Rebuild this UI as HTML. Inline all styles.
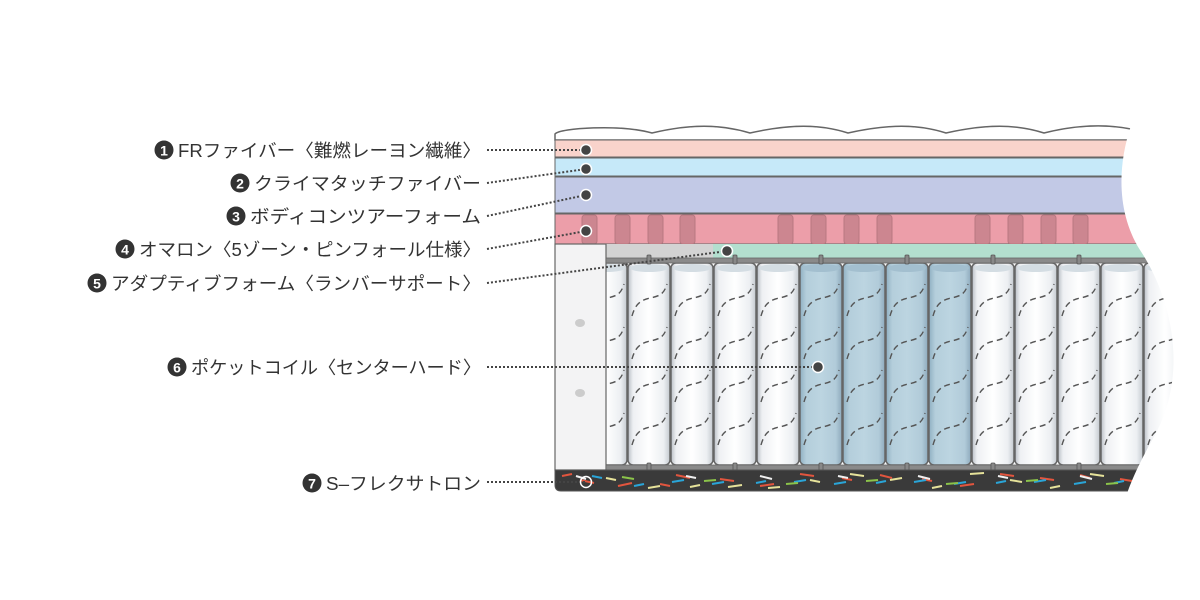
<!DOCTYPE html>
<html><head><meta charset="utf-8"><style>
html,body{margin:0;padding:0;background:#fff;}
svg{display:block}
text{font-family:"Liberation Sans","Noto Sans CJK JP",sans-serif;}
</style></head><body>
<svg width="1200" height="600" viewBox="0 0 1200 600" xmlns="http://www.w3.org/2000/svg">
<defs>
<linearGradient id="cw" x1="0" x2="1" y1="0" y2="0">
<stop offset="0" stop-color="#b9bec6"/><stop offset="0.12" stop-color="#eef0f3"/><stop offset="0.5" stop-color="#ffffff"/><stop offset="0.85" stop-color="#eceff2"/><stop offset="1" stop-color="#c3c8cf"/></linearGradient>
<linearGradient id="cb" x1="0" x2="1" y1="0" y2="0">
<stop offset="0" stop-color="#8fb0c3"/><stop offset="0.15" stop-color="#b4cedb"/><stop offset="0.5" stop-color="#bcd5e1"/><stop offset="0.85" stop-color="#b1cbd9"/><stop offset="1" stop-color="#8eaabd"/></linearGradient>
<g id="dash" fill="none" stroke="#555" stroke-width="1.4" stroke-dasharray="6 4">
<path d="M4,316 C7,305 12,300 22,298 C32,296 36,294 39,284"/>
<path d="M4,359 C7,348 12,343 22,341 C32,339 36,337 39,327"/>
<path d="M4,402 C7,391 12,386 22,384 C32,382 36,380 39,370"/>
<path d="M4,445 C7,434 12,429 22,427 C32,425 36,423 39,413"/>
</g>
<g id="coilw"><rect x="0" y="263" width="42" height="202" rx="5" fill="url(#cw)" stroke="#666" stroke-width="1.5"/><ellipse cx="21" cy="268" rx="19" ry="4" fill="#d4dde3"/><use href="#dash"/></g>
<g id="coilb"><rect x="0" y="263" width="42" height="202" rx="5" fill="url(#cb)" stroke="#666" stroke-width="1.5"/><ellipse cx="21" cy="268" rx="19" ry="4" fill="#a3bfcf"/><use href="#dash"/></g>
<g id="blk"><rect x="0" y="215" width="15" height="29" rx="3" fill="#cc8690" stroke="#b87881" stroke-width="1"/></g>
</defs>

<!-- quilt top -->
<path d="M555,140 L555,134 C560,128 620,124 652,133 C690,124 720,124 750,133 C790,124 820,124 848,133 C888,124 918,124 946,133 C986,124 1016,124 1044,133 C1080,124 1110,124 1135,130 L1135,140 Z" fill="#fff" stroke="#666" stroke-width="1.5"/>
<!-- layers -->
<rect x="555" y="140" width="600" height="17" fill="#f9d3cb" stroke="#666" stroke-width="1"/>
<rect x="555" y="158" width="600" height="18" fill="#c6e9f9" stroke="#666" stroke-width="1"/>
<rect x="555" y="177" width="600" height="36" fill="#c2c9e6" stroke="#666" stroke-width="1"/>
<rect x="555" y="214" width="600" height="30" fill="#ec9ea9" stroke="#666" stroke-width="1"/>
<use href="#blk" x="582"/><use href="#blk" x="615"/><use href="#blk" x="648"/><use href="#blk" x="680"/>
<use href="#blk" x="778"/><use href="#blk" x="811"/><use href="#blk" x="844"/><use href="#blk" x="877"/>
<use href="#blk" x="975"/><use href="#blk" x="1008"/><use href="#blk" x="1041"/><use href="#blk" x="1073"/>
<rect x="606" y="244" width="107" height="14" fill="#d3d3d3"/>
<rect x="713" y="244" width="460" height="14" fill="#b3dfcf"/>
<!-- coils -->
<g>
<use href="#coilw" x="585"/><use href="#coilw" x="628"/><use href="#coilw" x="671"/><use href="#coilw" x="714"/><use href="#coilw" x="757"/>
<use href="#coilb" x="800"/><use href="#coilb" x="843"/><use href="#coilb" x="886"/><use href="#coilb" x="929"/>
<use href="#coilw" x="972"/><use href="#coilw" x="1015"/><use href="#coilw" x="1058"/><use href="#coilw" x="1101"/><use href="#coilw" x="1144"/>
</g>
<rect x="555" y="244" width="51" height="226" fill="#f3f3f4" stroke="#666" stroke-width="1.2"/>
<ellipse cx="580" cy="323" rx="5" ry="4" fill="#ccc"/><ellipse cx="580" cy="393" rx="5" ry="4" fill="#ccc"/>
<rect x="606" y="258" width="580" height="5" fill="#8a8a8a" stroke="#666" stroke-width="0.8"/>
<rect x="606" y="465" width="580" height="5" fill="#8a8a8a" stroke="#666" stroke-width="0.8"/>
<g fill="#888" stroke="#555" stroke-width="0.8">
<rect x="647" y="255" width="4" height="9" rx="1"/><rect x="733" y="255" width="4" height="9" rx="1"/><rect x="819" y="255" width="4" height="9" rx="1"/><rect x="905" y="255" width="4" height="9" rx="1"/><rect x="991" y="255" width="4" height="9" rx="1"/><rect x="1077" y="255" width="4" height="9" rx="1"/>
<rect x="647" y="463" width="4" height="9" rx="1"/><rect x="733" y="463" width="4" height="9" rx="1"/><rect x="819" y="463" width="4" height="9" rx="1"/><rect x="905" y="463" width="4" height="9" rx="1"/><rect x="991" y="463" width="4" height="9" rx="1"/><rect x="1077" y="463" width="4" height="9" rx="1"/>
</g>
<!-- bottom layer -->
<path d="M555,470 L1180,470 L1180,491 L561,491 Q555,491 555,485 Z" fill="#3a3a3a" stroke="#555" stroke-width="1"/>
<g stroke-width="2">
<path d="M562,476 l10,-2 M580,480 l14,3 M618,486 l14,-3 M660,484 l10,2 M676,475 l14,3 M720,479 l14,2 M760,486 l14,-2 M800,474 l14,2 M842,478 l10,2 M880,475 l12,3 M922,479 l10,2 M960,486 l14,-2 M1000,474 l14,2 M1040,478 l14,2 M1080,475 l10,3 M1120,479 l12,2" stroke="#e2553e"/>
<path d="M592,476 l10,2 M634,486 l10,-2 M672,482 l12,-2 M712,484 l12,-2 M756,483 l10,-2 M794,482 l12,-2 M834,484 l12,-2 M876,483 l10,-2 M914,482 l12,-2 M954,484 l12,-2 M996,483 l10,-2 M1034,482 l12,-2 M1074,484 l12,-2 M1114,483 l10,-2" stroke="#2aa5d8"/>
<path d="M606,478 l10,2 M648,488 l12,-2 M690,487 l10,-2 M728,487 l14,-2 M768,488 l12,-1 M810,480 l10,2 M850,474 l14,2 M890,480 l12,-2 M932,488 l10,-2 M970,474 l14,-1 M1010,480 l12,2 M1050,488 l10,-2 M1090,474 l14,2" stroke="#e6e29a"/>
<path d="M622,477 l12,2 M704,481 l12,-1 M786,484 l12,-1 M866,481 l12,-1 M946,484 l12,-1 M1026,481 l12,-1 M1106,484 l12,-1" stroke="#8bc34a"/>
<path d="M576,476 l10,3 M686,476 l10,2 M760,476 l12,3 M838,476 l10,2 M918,476 l12,3 M998,476 l10,2 M1080,476 l12,3" stroke="#f0f0f0"/>
</g>
<!-- right cut mask -->
<path d="M1133,120 C1118,160 1115,210 1140,250 C1170,295 1190,370 1155,435 C1135,470 1128,490 1125,500 L1200,500 L1200,115 Z" fill="#fff"/>

<!-- leaders -->
<g stroke="#444" stroke-width="2" stroke-dasharray="2 2" fill="none">
<path d="M487,150 L586,150"/>
<path d="M487,183 L586,169"/>
<path d="M487,216 L586,195"/>
<path d="M487,249 L586,231"/>
<path d="M487,283 L727,251"/>
<path d="M487,367 L818,367"/>
<path d="M487,482 L586,482"/>
</g>
<g fill="#444" stroke="#fff" stroke-width="1.5">
<circle cx="586" cy="150" r="5.5"/><circle cx="586" cy="169" r="5.5"/><circle cx="586" cy="195" r="5.5"/><circle cx="586" cy="231" r="5.5"/><circle cx="727" cy="251" r="5.5"/><circle cx="818" cy="367" r="5.5"/>
</g>
<circle cx="586" cy="482" r="5.5" fill="none" stroke="#fff" stroke-width="1.5"/>

<!-- labels -->
<g font-size="18" fill="#333">
<g><circle cx="164" cy="150" r="9.5" fill="#333"/><text x="164" y="155.5" font-size="14" fill="#fff" text-anchor="middle" font-weight="bold">1</text>
<text x="481" y="157" text-anchor="end" textLength="303" lengthAdjust="spacingAndGlyphs">FRファイバー〈難燃レーヨン繊維〉</text></g>
<g><circle cx="240" cy="183" r="9.5" fill="#333"/><text x="240" y="188.5" font-size="14" fill="#fff" text-anchor="middle" font-weight="bold">2</text>
<text x="481" y="190" text-anchor="end" textLength="227" lengthAdjust="spacingAndGlyphs">クライマタッチファイバー</text></g>
<g><circle cx="236" cy="216" r="9.5" fill="#333"/><text x="236" y="221.5" font-size="14" fill="#fff" text-anchor="middle" font-weight="bold">3</text>
<text x="481" y="223" text-anchor="end" textLength="231" lengthAdjust="spacingAndGlyphs">ボディコンツアーフォーム</text></g>
<g><circle cx="125" cy="249" r="9.5" fill="#333"/><text x="125" y="254.5" font-size="14" fill="#fff" text-anchor="middle" font-weight="bold">4</text>
<text x="481" y="256" text-anchor="end" textLength="342" lengthAdjust="spacingAndGlyphs">オマロン〈5ゾーン・ピンフォール仕様〉</text></g>
<g><circle cx="97" cy="283" r="9.5" fill="#333"/><text x="97" y="288.5" font-size="14" fill="#fff" text-anchor="middle" font-weight="bold">5</text>
<text x="481" y="290" text-anchor="end" textLength="370" lengthAdjust="spacingAndGlyphs">アダプティブフォーム〈ランバーサポート〉</text></g>
<g><circle cx="177" cy="367" r="9.5" fill="#333"/><text x="177" y="372.5" font-size="14" fill="#fff" text-anchor="middle" font-weight="bold">6</text>
<text x="481" y="374" text-anchor="end" textLength="290" lengthAdjust="spacingAndGlyphs">ポケットコイル〈センターハード〉</text></g>
<g><circle cx="312" cy="483" r="9.5" fill="#333"/><text x="312" y="488.5" font-size="14" fill="#fff" text-anchor="middle" font-weight="bold">7</text>
<text x="481" y="490" text-anchor="end" textLength="155" lengthAdjust="spacingAndGlyphs">S–フレクサトロン</text></g>
</g>
</svg>
</body></html>
